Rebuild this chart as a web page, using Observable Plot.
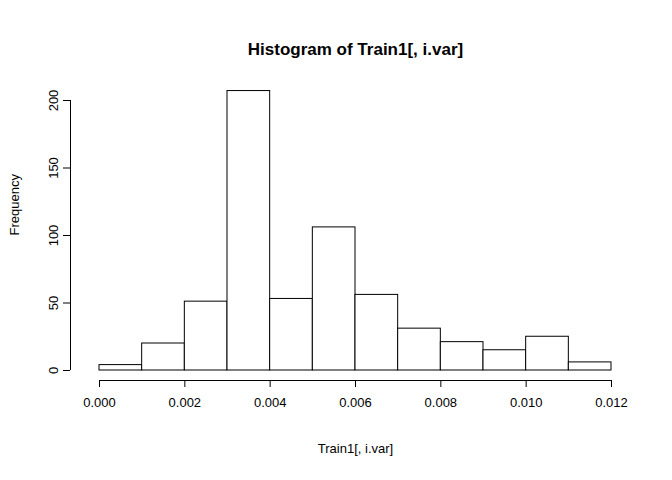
<!DOCTYPE html>
<html><head>
<script src="https://cdn.jsdelivr.net/npm/d3@7"></script>
<script src="https://cdn.jsdelivr.net/npm/@observablehq/plot@0.6"></script>
<style>body{margin:0;background:#fff}</style>
</head><body>
<div id="c"></div>
<script>
const binStarts = [0,0.001,0.002,0.003,0.004,0.005,0.006,0.007,0.008,0.009,0.010,0.011];
const counts = [4,20,51,207,53,106,56,31,21,15,25,6];
const xTicks = [0,0.002,0.004,0.006,0.008,0.010,0.012];
const yTicks = [0,50,100,150,200];
const data = binStarts.map((s,i)=>({x1:s,x2:s+0.001,y:counts[i]}));
const font = "Liberation Sans, Arial, sans-serif";
const chart = Plot.plot({
  width:672, height:480,
  marginLeft:99, marginRight:61, marginTop:100, marginBottom:110,
  style:{fontFamily:font, fontSize:"13px", background:"#fff"},
  x:{domain:[0,0.012], axis:null},
  y:{domain:[0,200], axis:null},
  marks:[
    Plot.rectY(data,{x1:"x1",x2:"x2",y:"y",fill:"white",stroke:"black",strokeWidth:1}),
    Plot.ruleY([0],{x1:0,x2:0.012,dy:10,stroke:"black"}),
    Plot.axisX({ticks:xTicks,tickFormat:".3f",tickSize:7,dy:10,tickPadding:10,fontSize:13,stroke:"black",color:"black",label:null}),
    Plot.ruleX([0],{y1:0,y2:200,dx:-29,stroke:"black"}),
    Plot.axisY({ticks:yTicks,tickSize:7,dx:-29,tickRotate:-90,tickPadding:6,fontSize:13,textAnchor:"middle",label:null}),
    Plot.text(["Histogram of Train1[, i.var]"],{frameAnchor:"top",dy:-58,fontWeight:"bold",fontSize:17}),
    Plot.text(["Train1[, i.var]"],{frameAnchor:"bottom",dy:82,fontSize:13}),
    Plot.text(["Frequency"],{frameAnchor:"left",dx:-85,rotate:-90,fontSize:13})
  ]
});
document.getElementById("c").appendChild(chart);
</script>
</body></html>
